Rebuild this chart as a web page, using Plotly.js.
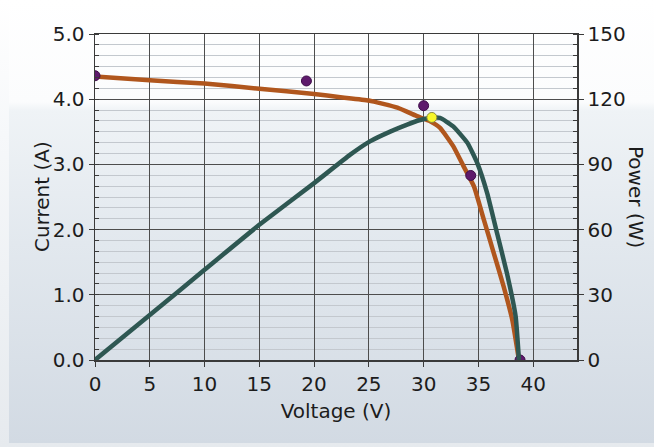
<!DOCTYPE html>
<html>
<head>
<meta charset="utf-8">
<script src="https://cdn.plot.ly/plotly-3.0.1.min.js"></script>
<style>
  html, body { margin: 0; padding: 0; width: 654px; height: 447px; overflow: hidden;
    background: linear-gradient(to bottom, #ffffff 0%, #f6f8fa 30%, #e6eaee 100%); }
  #panel { position: absolute; left: 9px; top: 0; width: 645px; height: 443px;
    background: linear-gradient(to bottom, #ffffff 0%, #fbfcfd 23%, #eff3f6 25%, #e2e8ee 55%, #d2dae3 100%); }
  #chart { position: absolute; left: 0; top: 0; width: 654px; height: 447px; }
</style>
</head>
<body>
<div id="panel"></div>
<div id="chart"></div>
<script>
// Current (A) vs Voltage (V)
const currentV = [0, 5, 10, 15, 20, 22.4, 25, 27.6, 29.4, 30.6, 31.5, 32.7, 33.65, 34.6, 35.5, 36.4, 37.3, 38.1, 38.7];
const currentA = [4.35, 4.29, 4.24, 4.16, 4.08, 4.03, 3.98, 3.87, 3.74, 3.66, 3.56, 3.28, 2.97, 2.66, 2.15, 1.64, 1.13, 0.61, 0.0];

// Power (W) vs Voltage (V)
const powerV = [0, 5, 10, 15, 20, 23.3, 25.1, 27.0, 28.5, 29.6, 30.6, 31.5, 32.7, 34.0, 34.9, 35.8, 36.7, 37.6, 38.4, 38.7];
const powerW = [0, 20.7, 41.5, 62.2, 81.4, 94.5, 100.6, 105.2, 108.3, 110.3, 111.4, 111.4, 107.5, 99.9, 90.6, 76.8, 58.4, 40.0, 20.0, 0];

// Measured points (purple)
const measV = [0, 19.3, 30.0, 34.3, 38.8];
const measA = [4.36, 4.28, 3.90, 2.83, 0.0];

// Maximum power point (yellow)
const mppV = [30.75];
const mppW = [111.6];

const xTicks = [0, 5, 10, 15, 20, 25, 30, 35, 40];

const FONT = "DejaVu Sans, Verdana, sans-serif";
const TXT = "#1c1c1c";
const FS = 20;

const traces = [
  { x: currentV, y: currentA, type: "scatter", mode: "lines", yaxis: "y",
    line: { color: "#b0561d", width: 4.5, shape: "spline", smoothing: 0.4 }, hoverinfo: "skip" },
  { x: powerV, y: powerW, type: "scatter", mode: "lines", yaxis: "y2",
    line: { color: "#2e5752", width: 4.5, shape: "spline", smoothing: 0.4 }, hoverinfo: "skip" },
  { x: measV, y: measA, type: "scatter", mode: "markers", yaxis: "y",
    marker: { color: "#5e1a6c", size: 10, line: { color: "#3e0d4a", width: 1 } }, hoverinfo: "skip" },
  { x: mppV, y: mppW, type: "scatter", mode: "markers", yaxis: "y2",
    marker: { color: "#f7f72a", size: 10, line: { color: "#8a8a40", width: 1 } }, hoverinfo: "skip" }
];

const layout = {
  width: 654, height: 447,
  margin: { l: 95, r: 77, t: 34, b: 87 },
  paper_bgcolor: "rgba(0,0,0,0)",
  plot_bgcolor: "rgba(0,0,0,0)",
  showlegend: false,
  font: { family: FONT, size: FS, color: TXT },
  xaxis: {
    range: [0, 44], tickvals: xTicks, ticktext: xTicks.map(String),
    showgrid: true, gridcolor: "#4d4d4d", gridwidth: 1,
    zeroline: false, showline: true, linecolor: "#3a3a3a", linewidth: 1.5, mirror: true,
    ticks: "outside", ticklen: 5, tickcolor: "#3a3a3a",
    tickfont: { family: FONT, size: FS, color: TXT },
    title: { text: "Voltage (V)", font: { family: FONT, size: FS, color: TXT }, standoff: 9 }
  },
  yaxis: {
    range: [0, 5], dtick: 1, tick0: 0, tickformat: ".1f",
    showgrid: true, gridcolor: "#4d4d4d", gridwidth: 1,
    zeroline: false, showline: true, linecolor: "#3a3a3a", linewidth: 1.5,
    ticks: "outside", ticklen: 5, tickcolor: "#3a3a3a",
    tickfont: { family: FONT, size: FS, color: TXT },
    minor: { dtick: 1/6, tick0: 0, showgrid: true, gridcolor: "#c3c8ce", gridwidth: 1,
             ticks: "inside", ticklen: 4, tickcolor: "#3a3a3a" }
  },
  yaxis2: {
    overlaying: "y", side: "right", range: [0, 150], dtick: 30, tick0: 0,
    showgrid: false, zeroline: false, showline: true, linecolor: "#3a3a3a", linewidth: 1.5,
    ticks: "outside", ticklen: 5, tickcolor: "#3a3a3a",
    tickfont: { family: FONT, size: FS, color: TXT },
    minor: { dtick: 5, tick0: 0, showgrid: false, ticks: "inside", ticklen: 4, tickcolor: "#3a3a3a" }
  },
  annotations: [
    { text: "Current (A)", xref: "paper", yref: "paper", x: 0, y: 0.5, xshift: -53,
      showarrow: false, textangle: -90, xanchor: "center", yanchor: "middle",
      font: { family: FONT, size: FS, color: TXT } },
    { text: "Power (W)", xref: "paper", yref: "paper", x: 1, y: 0.5, xshift: 59,
      showarrow: false, textangle: 90, xanchor: "center", yanchor: "middle",
      font: { family: FONT, size: FS, color: TXT } }
  ]
};

Plotly.newPlot("chart", traces, layout, { staticPlot: true, displayModeBar: false });
</script>
</body>
</html>
